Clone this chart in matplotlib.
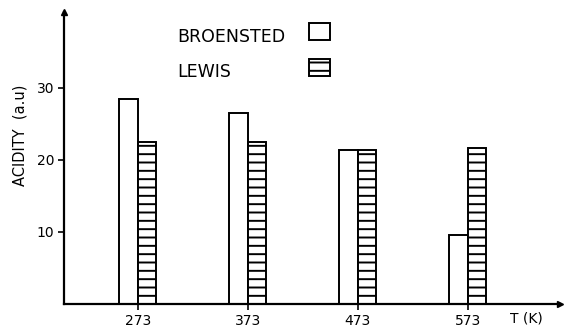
import numpy as np
import matplotlib
matplotlib.use("Agg")
from matplotlib import pyplot as plt

temps = [273, 373, 473, 573]
broensted = [28.5, 26.5, 21.4, 9.6]
lewis = [22.4, 22.5, 21.4, 21.7]
yticks = [10, 20, 30]
names = ['BROENSTED', 'LEWIS']

plt.rcParams['font.family'] = ['DejaVu Sans']
plt.rcParams['hatch.linewidth'] = 1.4

W, H = 566, 328
fig = plt.figure(figsize=(W / 100, H / 100), dpi=100)
ax = fig.add_axes([64 / W, (H - 304) / H, (560 - 64) / W, (304 - 12) / H])

bw = 17
b1 = ax.bar(temps, broensted, width=-bw, align='edge', facecolor='white',
            edgecolor='black', linewidth=1.4)
b2 = ax.bar(temps, lewis, width=bw, align='edge', facecolor='white',
            edgecolor='black', linewidth=1.4, hatch='--')

ax.set_xlim(206, 657)
ax.set_ylim(0, 40.5)
ax.set_xticks(temps)
ax.set_xticklabels([str(t) for t in temps], fontsize=10)
ax.set_yticks(yticks)
ax.set_yticklabels([str(v) for v in yticks], fontsize=10)
ax.tick_params(direction='out', length=4, width=1.2, pad=3)
ax.spines['top'].set_visible(False)
ax.spines['right'].set_visible(False)
ax.spines['left'].set_linewidth(1.6)
ax.spines['bottom'].set_linewidth(1.6)

# arrow heads on axes
ax.plot(1, 0, '>k', transform=ax.transAxes, clip_on=False, markersize=5)
ax.plot(0, 1, '^k', transform=ax.transAxes, clip_on=False, markersize=5)

fig.text(20 / W, 1 - 135 / H, 'ACIDITY  (a.u)', fontsize=10.5, rotation=90,
         ha='center', va='center')
fig.text(510 / W, 1 - 318 / H, 'T (K)', fontsize=10, va='center', ha='left')

# legend: boxes on the right, names left-justified
leg = ax.legend([b1, b2], ['', ''], loc='upper left',
                bbox_to_anchor=(309 / W, 1 - 23 / H),
                bbox_transform=fig.transFigure, frameon=False,
                fontsize=10, handlelength=1.5, handleheight=1.5,
                labelspacing=1.4, handletextpad=0, borderpad=0,
                borderaxespad=0)
fig.text(177 / W, 1 - 37 / H, names[0], fontsize=12.5, va='center', ha='left')
fig.text(177 / W, 1 - 72 / H, names[1], fontsize=12.5, va='center', ha='left')

fig.savefig('out.png', dpi=100)
